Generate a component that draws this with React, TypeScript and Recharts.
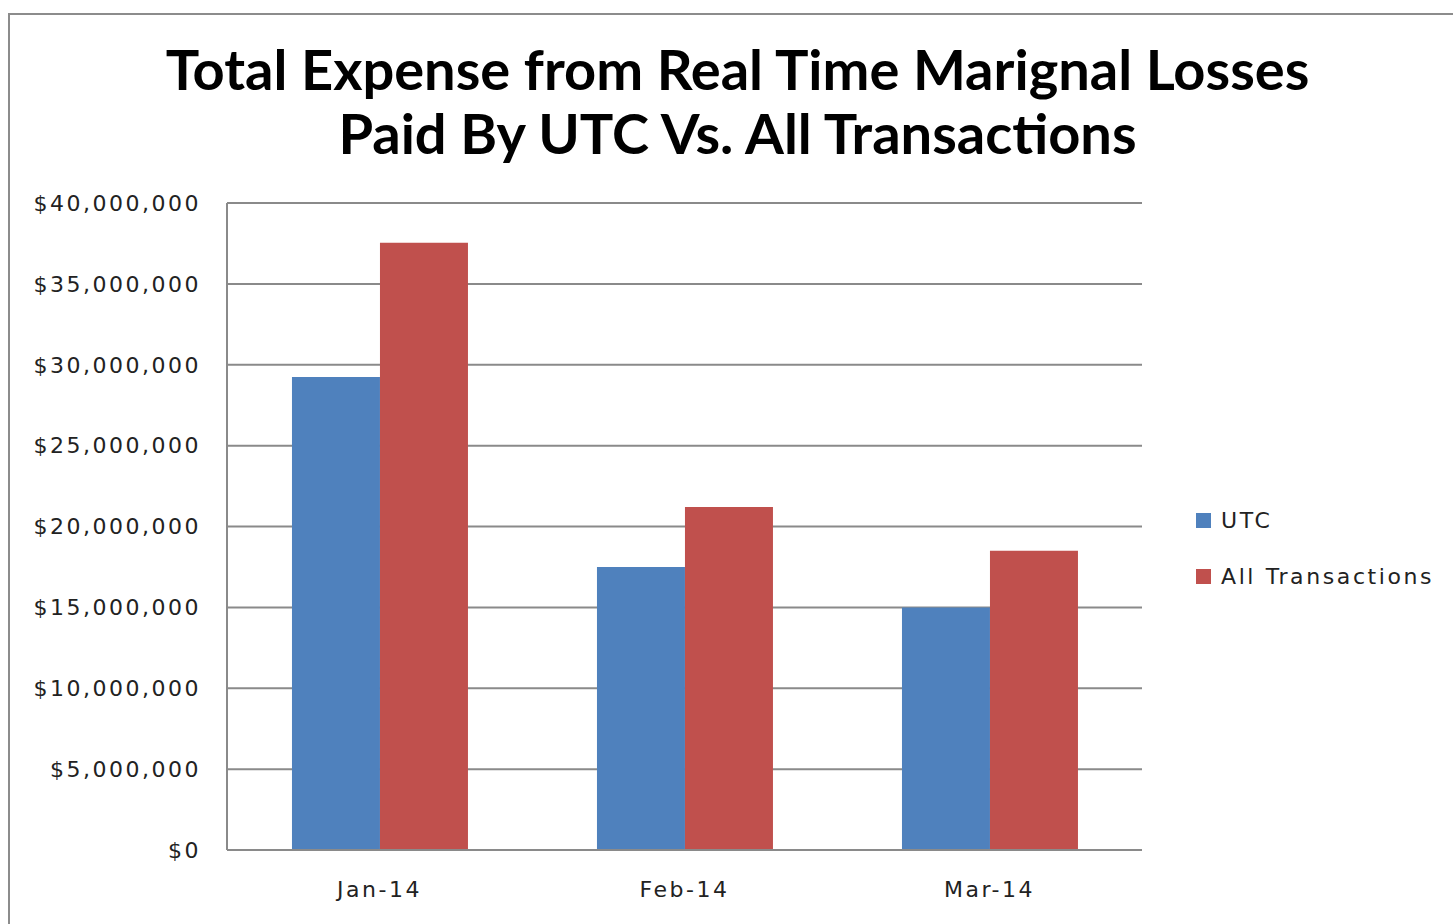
import { BarChart, Bar, XAxis, YAxis, CartesianGrid } from 'recharts';

const months = ['Jan-14', 'Feb-14', 'Mar-14'];
const utc = [29250000, 17500000, 15000000];
const allTransactions = [37550000, 21200000, 18500000];
const yTicks = [0, 5000000, 10000000, 15000000, 20000000, 25000000, 30000000, 35000000, 40000000];

const seriesNames = ['UTC', 'All Transactions'];
const seriesColors = ['#4F81BD', '#C0504D'];

const chartData = months.map((m, i) => ({
  month: m,
  utc: utc[i],
  all: allTransactions[i],
}));

const tickFont = { fontFamily: 'DejaVu Sans', fontSize: 22, fill: '#222', letterSpacing: 2.5 };

const money = (v: number) => '$' + v.toLocaleString('en-US');

export default function App() {
  return (
    <div style={{ position: 'absolute', left: 0, top: 0, width: 1453, height: 924, background: '#fff', overflow: 'hidden' }}>
      {/* outer chart-area frame */}
      <div
        style={{
          position: 'absolute',
          left: 8,
          top: 13,
          width: 1500,
          height: 1000,
          borderLeft: '2px solid #8c8c8c',
          borderTop: '2px solid #8c8c8c',
        }}
      />
      <div
        style={{
          position: 'absolute',
          left: 0,
          top: 37,
          width: 1475,
          textAlign: 'center',
          fontFamily: 'Lato',
          fontWeight: 700,
          fontSize: 56,
          lineHeight: '64px',
          color: '#000',
        }}
      >
        Total Expense from Real Time Marignal Losses
        <br />
        Paid By UTC Vs. All Transactions
      </div>
      <BarChart
        width={1453}
        height={924}
        data={chartData}
        margin={{ top: 203, right: 311, bottom: 0, left: 0 }}
        barCategoryGap="21.3%"
        barGap={0}
        style={{ position: 'absolute', left: 0, top: 0 }}
      >
        <CartesianGrid vertical={false} stroke="#8a8a8a" strokeWidth={2} />
        <XAxis
          dataKey="month"
          height={74}
          tickLine={false}
          tickSize={0}
          tickMargin={31}
          axisLine={{ stroke: '#8a8a8a', strokeWidth: 2 }}
          tick={tickFont}
        />
        <YAxis
          width={227}
          domain={[0, 40000000]}
          ticks={yTicks}
          tickFormatter={money}
          tickLine={false}
          tickSize={0}
          tickMargin={26}
          axisLine={{ stroke: '#8a8a8a', strokeWidth: 2 }}
          tick={tickFont}
          interval={0}
        />
        <Bar dataKey="utc" name={seriesNames[0]} fill={seriesColors[0]} isAnimationActive={false} />
        <Bar dataKey="all" name={seriesNames[1]} fill={seriesColors[1]} isAnimationActive={false} />
      </BarChart>
      {seriesNames.map((name, i) => (
        <div
          key={name}
          style={{
            position: 'absolute',
            left: 1196,
            top: 508 + i * 56,
            display: 'flex',
            alignItems: 'center',
            fontFamily: 'DejaVu Sans',
            fontSize: 22,
            letterSpacing: 2.6,
            color: '#222',
          }}
        >
          <span style={{ display: 'inline-block', width: 15, height: 15, background: seriesColors[i], marginRight: 10 }} />
          {name}
        </div>
      ))}
    </div>
  );
}
